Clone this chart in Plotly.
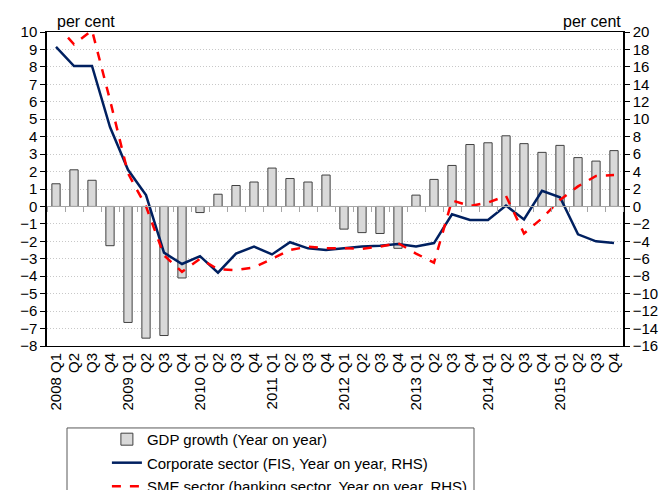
import plotly.graph_objects as go

# ---- data ----
years = [2008, 2009, 2010, 2011, 2012, 2013, 2014, 2015]
quarters = ["Q1", "Q2", "Q3", "Q4"]
tick_labels = [(f"{y} {q}" if q == "Q1" else q) for y in years for q in quarters]

gdp_growth = [1.3, 2.1, 1.5, -2.25,
              -6.65, -7.55, -7.4, -4.1,
              -0.35, 0.7, 1.2, 1.4,
              2.2, 1.6, 1.4, 1.8,
              -1.3, -1.5, -1.55, -2.4,
              0.65, 1.55, 2.35, 3.55,
              3.65, 4.05, 3.6, 3.1,
              3.5, 2.8, 2.6, 3.2]

corporate = [18.3, 16.1, 16.1, 9.1,
             4.2, 1.3, -5.3, -6.6,
             -5.7, -7.6, -5.4, -4.6,
             -5.5, -4.1, -4.8, -5.0,
             -4.8, -4.6, -4.5, -4.3,
             -4.6, -4.2, -0.9, -1.55,
             -1.55, 0.1, -1.5, 1.8,
             1.05, -3.2, -4.0, -4.2]

sme = [20.9, 18.6, 20.2, 12.2,
       3.8, 0.0, -5.6, -7.5,
       -6.0, -7.2, -7.3, -7.0,
       -6.0, -5.0, -4.6, -4.8,
       -4.8, -4.85, -4.6, -4.2,
       -5.4, -6.45, 0.7, 0.05,
       0.45, 1.2, -3.1, -1.35,
       0.75, 2.3, 3.5, 3.6]

idx = list(range(len(tick_labels)))
FONT = "Liberation Sans, Arial, sans-serif"

fig = go.Figure()
fig.add_trace(go.Bar(
    x=idx, y=gdp_growth, name="GDP growth (Year on year)", legendgroup="a",
    marker=dict(color="#d9d9d9", line=dict(color="#404040", width=1)),
    width=0.46, yaxis="y", xaxis="x"))
fig.add_trace(go.Scatter(
    x=idx, y=corporate, name="Corporate sector (FIS, Year on year, RHS)", legendgroup="b",
    mode="lines", line=dict(color="#002060", width=2.5), yaxis="y2", xaxis="x"))
fig.add_trace(go.Scatter(
    x=idx, y=sme, name="SME sector (banking sector, Year on year, RHS)", legendgroup="c",
    mode="lines", line=dict(color="#ff0000", width=2.5, dash="dash"), yaxis="y2", xaxis="x"))
# helper trace to make the zero-crossing category axis render
fig.add_trace(go.Scatter(x=[0], y=[0], mode="markers", marker=dict(opacity=0),
                         showlegend=False, hoverinfo="skip", xaxis="x2", yaxis="y"))

fig.update_layout(
    width=665, height=490,
    margin=dict(l=47, r=42, t=32, b=144, autoexpand=False),
    plot_bgcolor="white", paper_bgcolor="white",
    font=dict(family=FONT, size=15, color="black"),
    showlegend=True,
    xaxis=dict(range=[-0.5, 31.5], tickmode="array", tickvals=idx, ticktext=tick_labels,
               tickangle=-90, ticks="", showgrid=False, zeroline=False,
               showline=True, linecolor="black", linewidth=1, mirror=True,
               tickfont=dict(size=15), automargin=False),
    xaxis2=dict(range=[-0.5, 31.5], overlaying="x", anchor="free", position=8 / 18,
                tickmode="array", tickvals=[i - 0.5 for i in range(33)],
                ticks="outside", ticklen=5, tickcolor="#a6a6a6",
                showticklabels=False, showgrid=False, zeroline=False,
                showline=True, linecolor="#a6a6a6", linewidth=1, automargin=False),
    yaxis=dict(range=[-8, 10], dtick=1, tick0=0, ticks="outside", ticklen=5,
               tickcolor="black", showline=True, linecolor="black", linewidth=1.5,
               showgrid=True, gridcolor="#c8c8c8", griddash="1px,2px", gridwidth=1,
               zeroline=False, tickfont=dict(size=15), automargin=False),
    yaxis2=dict(range=[-16, 20], dtick=2, tick0=0, overlaying="y", side="right",
                ticks="outside", ticklen=5, tickcolor="black", showline=True,
                linecolor="black", linewidth=1.5, showgrid=False, zeroline=False,
                tickfont=dict(size=15), automargin=False),
    bargap=0.5,
    legend=dict(x=0.104, y=-0.245, xanchor="left", yanchor="top",
                bgcolor="rgba(0,0,0,0)", borderwidth=0, traceorder="grouped",
                font=dict(size=15), tracegroupgap=1, itemwidth=30, maxheight=300),
    shapes=[dict(type="rect", xref="paper", yref="paper",
                 x0=20 / 576, x1=427 / 576, y0=-0.261, y1=-0.6,
                 line=dict(color="#595959", width=1), fillcolor="rgba(0,0,0,0)",
                 layer="below")],
    annotations=[
        dict(text="per cent", xref="paper", yref="paper", x=8 / 576, y=1.0,
             xanchor="left", yanchor="bottom", showarrow=False, font=dict(size=16)),
        dict(text="per cent", xref="paper", yref="paper", x=1.0, y=1.0,
             xanchor="right", yanchor="bottom", showarrow=False, font=dict(size=16)),
    ],
)

fig.write_html("out.html", config={"displayModeBar": False},
               post_script="document.body.style.margin='0';")
